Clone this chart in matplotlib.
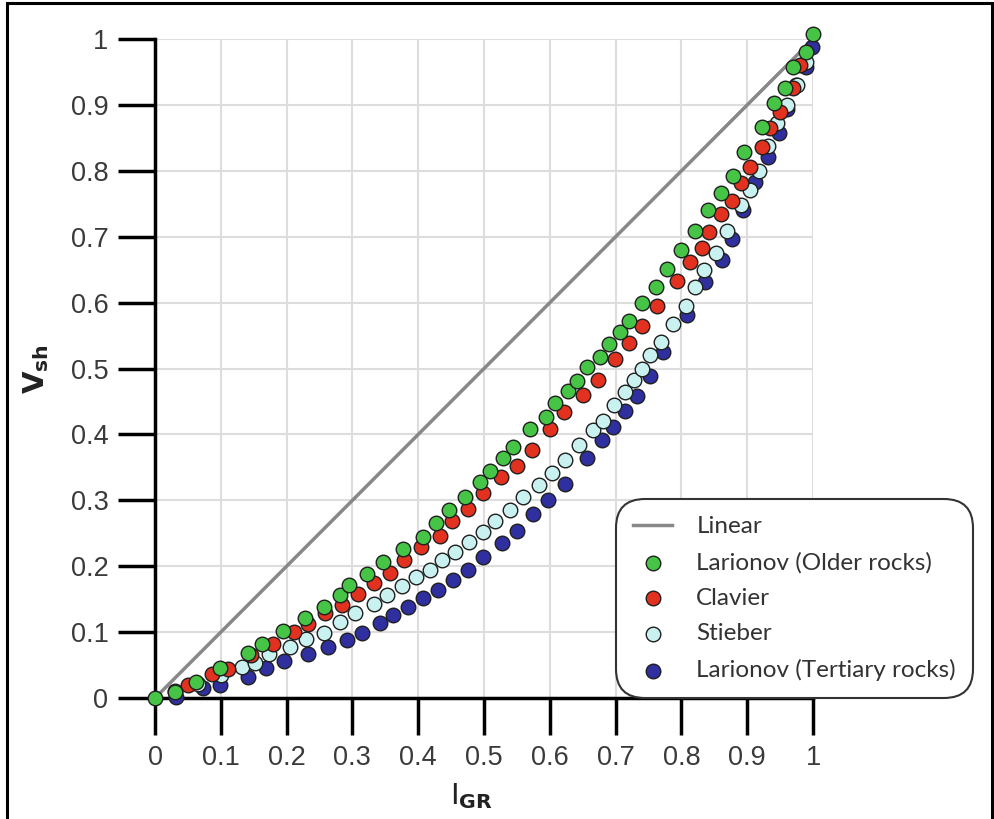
import matplotlib
matplotlib.use("Agg")
import matplotlib.pyplot as plt
from matplotlib.patches import Rectangle

plt.rcParams['font.family'] = 'Liberation Sans'

# values
larionov_old_x = [0.0, 0.030, 0.062, 0.099, 0.141, 0.163, 0.195, 0.228, 0.257, 0.281,
                  0.295, 0.322, 0.347, 0.377, 0.407, 0.427, 0.447, 0.471, 0.494, 0.509,
                  0.529, 0.544, 0.570, 0.594, 0.608, 0.628, 0.641, 0.657, 0.676, 0.690,
                  0.707, 0.720, 0.740, 0.761, 0.778, 0.799, 0.821, 0.840, 0.860, 0.878,
                  0.895, 0.922, 0.941, 0.957, 0.970, 0.989, 1.0]
larionov_old_y = [0.0, 0.009, 0.024, 0.046, 0.068, 0.082, 0.102, 0.121, 0.138, 0.156,
                  0.171, 0.188, 0.206, 0.226, 0.244, 0.265, 0.285, 0.305, 0.328, 0.344,
                  0.364, 0.381, 0.408, 0.426, 0.448, 0.466, 0.481, 0.502, 0.517, 0.537,
                  0.555, 0.572, 0.599, 0.624, 0.651, 0.680, 0.709, 0.740, 0.766, 0.792,
                  0.828, 0.866, 0.903, 0.926, 0.957, 0.980, 1.008]

clavier_x = [0.050, 0.087, 0.111, 0.146, 0.179, 0.211, 0.233, 0.258, 0.284, 0.309,
             0.333, 0.357, 0.378, 0.404, 0.433, 0.451, 0.476, 0.498, 0.526, 0.550,
             0.573, 0.600, 0.622, 0.650, 0.673, 0.699, 0.720, 0.740, 0.763, 0.793,
             0.813, 0.831, 0.842, 0.860, 0.877, 0.891, 0.904, 0.922, 0.935, 0.950,
             0.970, 0.980]
clavier_y = [0.020, 0.036, 0.044, 0.065, 0.082, 0.100, 0.112, 0.129, 0.141, 0.158,
             0.174, 0.190, 0.209, 0.229, 0.246, 0.268, 0.287, 0.311, 0.335, 0.352,
             0.376, 0.408, 0.434, 0.460, 0.483, 0.514, 0.539, 0.564, 0.595, 0.633,
             0.662, 0.683, 0.707, 0.735, 0.755, 0.781, 0.806, 0.836, 0.865, 0.889,
             0.926, 0.960]

stieber_x = [0.030, 0.065, 0.100, 0.132, 0.152, 0.173, 0.205, 0.229, 0.257, 0.281,
             0.304, 0.333, 0.353, 0.375, 0.397, 0.418, 0.436, 0.456, 0.477, 0.498,
             0.517, 0.540, 0.559, 0.584, 0.603, 0.623, 0.644, 0.666, 0.681, 0.698,
             0.714, 0.728, 0.740, 0.752, 0.769, 0.787, 0.807, 0.821, 0.834, 0.853,
             0.869, 0.891, 0.904, 0.918, 0.932, 0.945, 0.960, 0.976, 0.989]
stieber_y = [0.010, 0.022, 0.035, 0.047, 0.053, 0.067, 0.077, 0.089, 0.099, 0.116,
             0.129, 0.143, 0.156, 0.170, 0.184, 0.195, 0.209, 0.222, 0.237, 0.252,
             0.269, 0.285, 0.305, 0.323, 0.341, 0.361, 0.384, 0.407, 0.420, 0.445,
             0.464, 0.483, 0.500, 0.520, 0.540, 0.567, 0.595, 0.624, 0.649, 0.675,
             0.709, 0.748, 0.771, 0.800, 0.838, 0.872, 0.900, 0.930, 0.965]

larionov_ter_x = [0.032, 0.073, 0.099, 0.141, 0.169, 0.196, 0.233, 0.263, 0.292, 0.315,
                  0.342, 0.362, 0.385, 0.407, 0.430, 0.453, 0.476, 0.498, 0.527, 0.550,
                  0.574, 0.597, 0.623, 0.657, 0.679, 0.696, 0.714, 0.733, 0.752, 0.772,
                  0.808, 0.836, 0.862, 0.877, 0.894, 0.912, 0.932, 0.948, 0.960, 0.974,
                  0.989, 0.998]
larionov_ter_y = [0.002, 0.015, 0.020, 0.032, 0.045, 0.056, 0.067, 0.077, 0.088, 0.099,
                  0.114, 0.126, 0.138, 0.152, 0.164, 0.179, 0.194, 0.214, 0.236, 0.253,
                  0.280, 0.300, 0.325, 0.365, 0.391, 0.412, 0.435, 0.458, 0.489, 0.525,
                  0.582, 0.631, 0.665, 0.697, 0.740, 0.783, 0.821, 0.857, 0.894, 0.930,
                  0.958, 0.988]

linear_x = [0, 1]
linear_y = [0, 1]

ticks = [0, 0.1, 0.2, 0.3, 0.4, 0.5, 0.6, 0.7, 0.8, 0.9, 1]
tick_labels = ['0', '0.1', '0.2', '0.3', '0.4', '0.5', '0.6', '0.7', '0.8', '0.9', '1']

fig = plt.figure(figsize=(9.95, 8.19), dpi=100)
ax = fig.add_axes([0.1558, 0.1477, 0.6613, 0.8046])

ax.grid(True, color='#dddddd', lw=1.5, zorder=0)
ax.set_axisbelow(True)

ax.plot(linear_x, linear_y, color='#888888', lw=2.5, label='Linear', zorder=2)

mk = dict(s=110, edgecolors='#1f1f1f', linewidths=1.0, clip_on=False, zorder=3)
ax.scatter(larionov_ter_x, larionov_ter_y, c='#2f2f9f', label='Larionov (Tertiary rocks)', **mk)
ax.scatter(stieber_x, stieber_y, c='#c8f1ef', label='Stieber', **mk)
ax.scatter(clavier_x, clavier_y, c='#e2321f', label='Clavier', **mk)
ax.scatter(larionov_old_x, larionov_old_y, c='#46c446', label='Larionov (Older rocks)', **mk)

ax.set_xlim(0, 1)
ax.set_ylim(0, 1)
ax.set_xticks(ticks)
ax.set_yticks(ticks)
ax.set_xticklabels(tick_labels, fontsize=19.5, color='#3a3a3a')
ax.set_yticklabels(tick_labels, fontsize=19.5, color='#3a3a3a')
for s in ['top', 'right']:
    ax.spines[s].set_visible(False)
for s in ['left', 'bottom']:
    ax.spines[s].set_linewidth(2.5)
ax.tick_params(direction='out', length=26.5, width=2.5, pad=7)

fig.text(0.036, 0.55, r'$\mathbf{V_{sh}}$', rotation=90, fontsize=21,
         ha='center', va='center', color='#222222')
fig.text(0.474, 0.028, r'$\mathsf{I_{\mathbf{GR}}}$', fontsize=21,
         ha='center', va='center', color='#222222')

handles, labels = ax.get_legend_handles_labels()
order = [0, 4, 3, 2, 1]
leg = ax.legend([handles[i] for i in order], [labels[i] for i in order],
                loc='lower right', bbox_to_anchor=(1.243, 0.0), borderaxespad=0,
                prop={'family': 'Lato', 'size': 17.5}, frameon=True,
                fancybox=True, edgecolor='#333333', framealpha=1,
                handlelength=1.6, handletextpad=1.0, labelspacing=0.6,
                borderpad=0.7, labelcolor='#333333')
leg.get_frame().set_linewidth(1.5)
leg.get_frame().set_boxstyle('round', pad=0, rounding_size=1.2)
for h in leg.legend_handles[1:]:
    h.set_sizes([110])

fig.patches.append(Rectangle((7 / 995, -0.01), 985 / 995, 1 - 3 / 819 + 0.01,
                             transform=fig.transFigure, fill=False,
                             edgecolor='black', lw=2.2))

fig.savefig('out.png', dpi=100)
